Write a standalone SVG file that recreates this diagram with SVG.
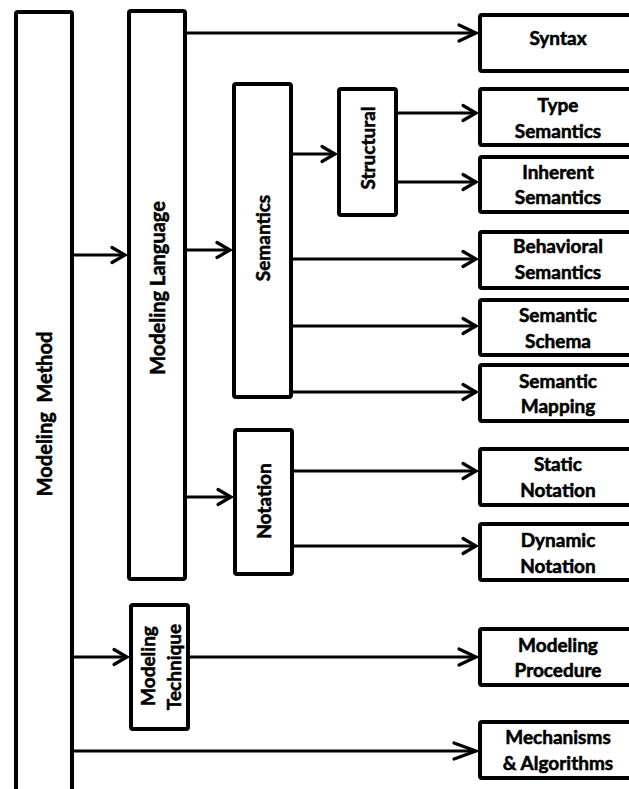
<svg xmlns="http://www.w3.org/2000/svg" width="629" height="789" viewBox="0 0 629 789">
  <style>
    .box { fill: #ffffff; stroke: #000000; stroke-width: 4; }
    .lbl { font-family: Lato, "Liberation Sans", sans-serif; font-weight: bold; font-size: 19px; fill: #000000; stroke: #000000; stroke-width: 0.55; text-anchor: middle; }
    .big { font-size: 20px; white-space: pre; }
    .edge { stroke: #000000; stroke-width: 3; fill: none; }
  </style>
  <defs>
    <marker id="arr" markerUnits="userSpaceOnUse" viewBox="-15 -10 17 20" refX="0" refY="0" markerWidth="17" markerHeight="20" orient="auto" overflow="visible">
      <path d="M-13,-7.5 L0,0 L-13,7.5" fill="none" stroke="#000" stroke-width="3.2" stroke-linecap="round" stroke-linejoin="miter"/>
    </marker>
    <marker id="arrL" markerUnits="userSpaceOnUse" viewBox="-20 -10 22 20" refX="0" refY="0" markerWidth="22" markerHeight="20" orient="auto" overflow="visible">
      <path d="M-17,-8 L0,0 L-17,8" fill="none" stroke="#000" stroke-width="3.2" stroke-linecap="round" stroke-linejoin="miter"/>
    </marker>
    <marker id="arrXL" markerUnits="userSpaceOnUse" viewBox="-25 -10 27 20" refX="0" refY="0" markerWidth="27" markerHeight="20" orient="auto" overflow="visible">
      <path d="M-22,-8 L0,0 L-22,8" fill="none" stroke="#000" stroke-width="3.2" stroke-linecap="round" stroke-linejoin="miter"/>
    </marker>
  </defs>

  <!-- connectors -->
  <g id="connectors">
    <line class="edge" x1="74" y1="255" x2="125" y2="255" marker-end="url(#arr)"/>
    <line class="edge" x1="187" y1="33" x2="476" y2="33" marker-end="url(#arrL)"/>
    <line class="edge" x1="187" y1="250" x2="230" y2="250" marker-end="url(#arr)"/>
    <line class="edge" x1="187" y1="497" x2="231" y2="497" marker-end="url(#arr)"/>
    <line class="edge" x1="293" y1="154" x2="335" y2="154" marker-end="url(#arr)"/>
    <line class="edge" x1="398" y1="113" x2="476" y2="113" marker-end="url(#arr)"/>
    <line class="edge" x1="398" y1="182" x2="476" y2="182" marker-end="url(#arr)"/>
    <line class="edge" x1="293" y1="259" x2="476" y2="259" marker-end="url(#arr)"/>
    <line class="edge" x1="293" y1="326" x2="476" y2="326" marker-end="url(#arr)"/>
    <line class="edge" x1="293" y1="392" x2="476" y2="392" marker-end="url(#arr)"/>
    <line class="edge" x1="294" y1="471" x2="476" y2="471" marker-end="url(#arr)"/>
    <line class="edge" x1="294" y1="546" x2="476" y2="546" marker-end="url(#arr)"/>
    <line class="edge" x1="74" y1="657" x2="127" y2="657" marker-end="url(#arr)"/>
    <line class="edge" x1="190" y1="657" x2="476" y2="657" marker-end="url(#arrL)"/>
    <line class="edge" x1="74" y1="751" x2="476" y2="751" marker-end="url(#arrXL)"/>
  </g>

  <!-- left column -->
  <g id="modeling-method">
    <rect class="box" x="16" y="12" width="56" height="790" rx="2"/>
    <text class="lbl big" transform="translate(52,414) rotate(-90)">Modeling  Method</text>
  </g>

  <g id="modeling-language">
    <rect class="box" x="129" y="11" width="56" height="568" rx="2"/>
    <text class="lbl" style="font-size:20px" transform="translate(165,288) rotate(-90)">Modeling Language</text>
  </g>

  <g id="modeling-technique">
    <rect class="box" x="131" y="605" width="57" height="124" rx="2"/>
    <text class="lbl" transform="translate(155,666) rotate(-90)">Modeling</text>
    <text class="lbl" transform="translate(181,667) rotate(-90)">Technique</text>
  </g>

  <!-- middle column -->
  <g id="semantics">
    <rect class="box" x="234" y="84" width="57" height="313" rx="2"/>
    <text class="lbl" transform="translate(270,238) rotate(-90)">Semantics</text>
  </g>

  <g id="notation">
    <rect class="box" x="235" y="430" width="57" height="144" rx="2"/>
    <text class="lbl" transform="translate(271,501) rotate(-90)">Notation</text>
  </g>

  <g id="structural">
    <rect class="box" x="339" y="89" width="57" height="126" rx="2"/>
    <text class="lbl" transform="translate(375,148) rotate(-90)">Structural</text>
  </g>

  <!-- right column (boxes run past the right edge) -->
  <g id="syntax">
    <rect class="box" x="480" y="15" width="160" height="56" rx="2"/>
    <text class="lbl" x="558" y="45">Syntax</text>
  </g>

  <g id="type-semantics">
    <rect class="box" x="480" y="89" width="160" height="56" rx="2"/>
    <text class="lbl" x="558" y="112">Type</text>
    <text class="lbl" x="558" y="138">Semantics</text>
  </g>

  <g id="inherent-semantics">
    <rect class="box" x="480" y="157" width="160" height="55" rx="2"/>
    <text class="lbl" x="558" y="179">Inherent</text>
    <text class="lbl" x="558" y="204">Semantics</text>
  </g>

  <g id="behavioral-semantics">
    <rect class="box" x="480" y="232" width="160" height="56" rx="2"/>
    <text class="lbl" x="558" y="253">Behavioral</text>
    <text class="lbl" x="558" y="279">Semantics</text>
  </g>

  <g id="semantic-schema">
    <rect class="box" x="480" y="300" width="160" height="55" rx="2"/>
    <text class="lbl" x="558" y="322">Semantic</text>
    <text class="lbl" x="558" y="348">Schema</text>
  </g>

  <g id="semantic-mapping">
    <rect class="box" x="480" y="365" width="160" height="56" rx="2"/>
    <text class="lbl" x="558" y="388">Semantic</text>
    <text class="lbl" x="558" y="413">Mapping</text>
  </g>

  <g id="static-notation">
    <rect class="box" x="480" y="449" width="160" height="56" rx="2"/>
    <text class="lbl" x="558" y="471">Static</text>
    <text class="lbl" x="558" y="497">Notation</text>
  </g>

  <g id="dynamic-notation">
    <rect class="box" x="480" y="524" width="160" height="56" rx="2"/>
    <text class="lbl" x="558" y="547">Dynamic</text>
    <text class="lbl" x="558" y="573">Notation</text>
  </g>

  <g id="modeling-procedure">
    <rect class="box" x="480" y="629" width="160" height="56" rx="2"/>
    <text class="lbl" x="558" y="652">Modeling</text>
    <text class="lbl" x="558" y="677">Procedure</text>
  </g>

  <g id="mechanisms-algorithms">
    <rect class="box" x="480" y="722" width="160" height="56" rx="2"/>
    <text class="lbl" x="558" y="744">Mechanisms</text>
    <text class="lbl" x="558" y="770">&amp; Algorithms</text>
  </g>
</svg>
